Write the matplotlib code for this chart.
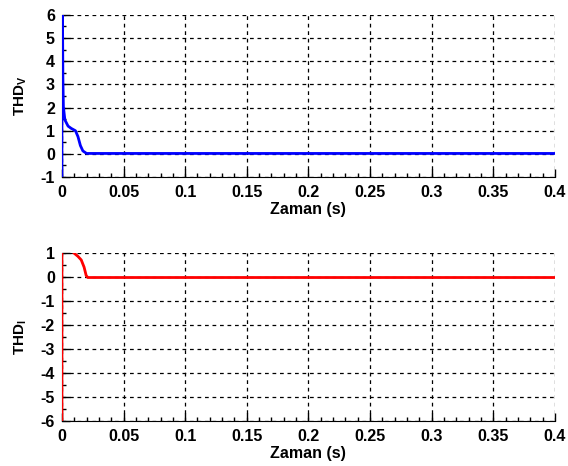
import matplotlib
matplotlib.use("Agg")
import matplotlib.pyplot as plt
from matplotlib.ticker import MultipleLocator
import numpy as np

plt.rcParams['font.family'] = ['Liberation Sans', 'DejaVu Sans']
plt.rcParams['font.weight'] = 'bold'
plt.rcParams['mathtext.fontset'] = 'custom'
plt.rcParams['mathtext.bf'] = 'Liberation Sans:bold'
plt.rcParams['mathtext.rm'] = 'Liberation Sans:bold'

# THD_V transient (time s, value)
t_v = [0.0, 0.0, 0.0008, 0.0012, 0.0024, 0.005, 0.0076, 0.011, 0.013, 0.015, 0.017, 0.020, 0.4]
thd_v = [-10.0, 10.0, 3.26, 2.04, 1.47, 1.2, 1.1, 1.0, 0.75, 0.36, 0.13, 0.02, 0.02]

# THD_I transient
t_i = [0.0, 0.0, 0.005, 0.0095, 0.013, 0.0157, 0.018, 0.0197, 0.021, 0.4]
thd_i = [-10.0, 10.0, 1.5, 1.0, 0.85, 0.7, 0.4, 0.05, -0.03, -0.03]

x_ticks = [0, 0.05, 0.1, 0.15, 0.2, 0.25, 0.3, 0.35, 0.4]
x_labels = ['0', '0.05', '0.1', '0.15', '0.2', '0.25', '0.3', '0.35', '0.4']

fig = plt.figure(figsize=(5.68, 4.66), dpi=100)
ax1 = fig.add_axes([0.109, 0.620, 0.868, 0.348])
ax2 = fig.add_axes([0.109, 0.0966, 0.868, 0.361])

FS = 11.5

def style(ax, ylim, yticks):
    ax.set_xlim(0, 0.4)
    ax.set_ylim(*ylim)
    ax.set_xticks(x_ticks)
    ax.set_xticklabels(x_labels)
    ax.set_yticks(yticks)
    ax.set_yticklabels([str(v) for v in yticks])
    ax.xaxis.set_minor_locator(MultipleLocator(0.01))
    ax.yaxis.set_minor_locator(MultipleLocator(0.5))
    ax.tick_params(which='major', direction='in', length=6, width=1, labelsize=FS)
    ax.tick_params(axis='x', which='major', pad=6)
    ax.tick_params(axis='y', which='major', pad=5)
    ax.tick_params(which='minor', direction='in', length=3, width=1)
    ax.spines['top'].set_visible(False)
    ax.spines['right'].set_visible(False)
    ax.grid(True, which='major', color='black', linestyle=(0, (3, 3)), linewidth=0.9)
    ax.set_axisbelow(False)
    for lab in ax.get_xticklabels() + ax.get_yticklabels():
        lab.set_fontweight('bold')
    ax.set_xlabel('Zaman (s)', fontsize=FS, fontweight='bold', labelpad=1)

ax1.plot(t_v, thd_v, color='#0000ff', linewidth=2, clip_on=True, zorder=3)
style(ax1, (-1, 6), [-1, 0, 1, 2, 3, 4, 5, 6])
ax1.set_ylabel('THD$_\\mathbf{V}$', fontsize=11, fontweight='bold')
ax1.yaxis.set_label_coords(-0.067, 0.5)

ax2.plot(t_i, thd_i, color='#ff0000', linewidth=2, clip_on=True, zorder=3)
style(ax2, (-6, 1), [-6, -5, -4, -3, -2, -1, 0, 1])
ax2.set_ylabel('THD$_\\mathbf{I}$', fontsize=11, fontweight='bold')
ax2.yaxis.set_label_coords(-0.067, 0.5)

fig.savefig('out.png', dpi=100)
